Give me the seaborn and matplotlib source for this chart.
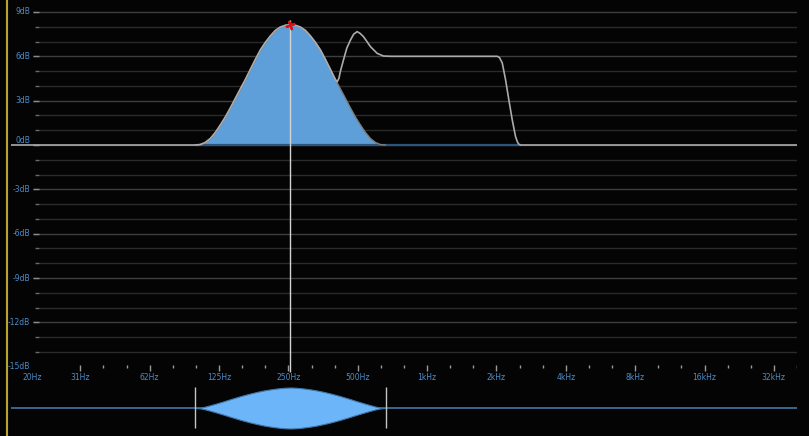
import numpy as np
import pandas as pd
import matplotlib
matplotlib.use("Agg")
import matplotlib.pyplot as plt
import seaborn as sns
from matplotlib.transforms import blended_transform_factory

# ---------------- data ----------------
bell_freq = [98.6, 103.6, 108.9, 114.6, 120.5, 126.6, 133.1, 139.9, 147.1, 154.6,
             162.6, 170.9, 179.7, 188.9, 198.6, 208.8, 219.5, 230.7, 242.6, 255.0,
             268.1, 281.8, 296.3, 311.5, 327.5, 344.3, 361.8, 380.5, 399.8, 420.5,
             442.2, 464.9, 488.6, 513.6, 539.8, 567.4, 597.0, 627.0, 660.0]
bell_db = [0.0, 0.03, 0.17, 0.44, 0.85, 1.35, 1.89, 2.50, 3.15, 3.79,
           4.43, 5.11, 5.79, 6.43, 6.94, 7.38, 7.75, 7.98, 8.10, 8.15,
           8.10, 7.98, 7.75, 7.38, 6.94, 6.43, 5.79, 5.11, 4.43, 3.79,
           3.15, 2.50, 1.89, 1.35, 0.85, 0.44, 0.17, 0.03, 0.0]

total_freq = [15.625, 98.6, 103.6, 108.9, 114.6, 120.5, 126.6, 133.1, 139.9, 147.1,
              154.6, 162.6, 170.9, 179.7, 188.9, 198.6, 208.8, 219.5, 230.7, 242.6,
              255.0, 268.1, 281.8, 296.3, 311.5, 327.5, 344.3, 361.8, 380.5, 399.8,
              407.0, 414.0, 420.5, 433.4, 448.0, 464.8, 480.0, 497.0, 512.0, 529.3,
              548.0, 567.8, 607.0, 646.5, 700.0, 1000.0, 1500.0, 2016.0, 2060.0,
              2119.0, 2191.0, 2264.0, 2342.0, 2421.0, 2470.0, 2502.0, 2545.0, 40317.0]
total_db = [0.0, 0.0, 0.03, 0.17, 0.44, 0.85, 1.35, 1.89, 2.50, 3.15,
            3.79, 4.43, 5.11, 5.79, 6.43, 6.94, 7.38, 7.75, 7.98, 8.10,
            8.15, 8.10, 7.98, 7.75, 7.38, 6.94, 6.43, 5.79, 5.11, 4.43,
            4.28, 4.50, 5.00, 5.75, 6.55, 7.10, 7.50, 7.67, 7.55, 7.33,
            7.00, 6.65, 6.20, 6.02, 6.0, 6.0, 6.0, 6.0, 5.92,
            5.55, 4.40, 3.04, 1.69, 0.56, 0.18, 0.05, 0.0, 0.0]

# half-thickness of the lens in the lower band strip (aligned with bell_freq)
lens_half = [0.0, 0.4, 1.4, 2.8, 4.2, 5.7, 7.2, 8.8, 10.3, 11.8,
             13.2, 14.5, 15.7, 16.8, 17.8, 18.6, 19.3, 19.9, 20.3, 20.5,
             20.3, 19.9, 19.3, 18.6, 17.8, 16.8, 15.7, 14.5, 13.2, 11.8,
             10.3, 8.8, 7.2, 5.7, 4.2, 2.8, 1.4, 0.4, 0.0]

x_tick_freq = [31.25, 62.5, 125, 250, 500, 1000, 2000, 4000, 8000, 16000, 32000]
x_tick_labels = ["31Hz", "62Hz", "125Hz", "250Hz", "500Hz", "1kHz", "2kHz",
                 "4kHz", "8kHz", "16kHz", "32kHz"]
first_label_freq = 20
first_label = "20Hz"
y_label_values = [9, 6, 3, 0, -3, -6, -9, -12, -15]
y_labels = ["9dB", "6dB", "3dB", "0dB", "-3dB", "-6dB", "-9dB", "-12dB", "-15dB"]
band_center = 255.0
band_peak = 8.15
band_edges = [98.6, 660.0]

# ---------------- style ----------------
BG = "#040404"
LABEL = "#4d8cc8"
sns.set_style("dark", {"axes.facecolor": BG, "figure.facecolor": BG})
plt.rcParams["font.family"] = ["DejaVu Sans"]

W, H = 809, 436
fig = plt.figure(figsize=(W / 100, H / 100), dpi=100, facecolor=BG)

XMIN, XMAX = 15.625, 40317.0
PX_PER_OCT = 786 / np.log2(XMAX / XMIN)


def px2f(px):
    return XMIN * 2 ** ((px - 11) / PX_PER_OCT)


# main axes: pixel rows 4..384
ax = fig.add_axes([11 / W, (H - 384) / H, 786 / W, 380 / H])
ax.set_facecolor(BG)
ax.set_xscale("log", base=2)
ax.set_xlim(XMIN, XMAX)
ax.set_ylim((145 - 384) / 14.78, (145 - 4) / 14.78)
for s in ax.spines.values():
    s.set_visible(False)
ax.set_xticks([])
ax.set_yticks([])
ax.grid(False)

# horizontal gridlines every dB
for db in range(-14, 10):
    if db % 3 == 0:
        ax.hlines(db, px2f(33), XMAX, color="#3e3e3e", lw=1.0, zorder=1)
        ax.hlines(db, px2f(33), px2f(39), color="#8a8a8a", lw=1.0, zorder=1.5)
    else:
        ax.hlines(db, px2f(39), XMAX, color="#2a2a2a", lw=1.0, zorder=1)
        ax.hlines(db, px2f(35), px2f(39), color="#6a6a6a", lw=1.0, zorder=1.5)

# y labels
tr = blended_transform_factory(ax.transAxes, ax.transData)
for v, lab in zip(y_label_values, y_labels):
    yy = v + 0.33 if v == 0 else v
    ax.text((30 - 11) / 786, yy, lab, transform=tr, ha="right", va="center",
            fontsize=5.5, color=LABEL, zorder=5)

# x ticks and labels
tick_top = (145 - 365) / 14.78
for f in x_tick_freq:
    ax.vlines(f, (145 - 371) / 14.78, tick_top, color="#9a9a9a", lw=1.0)
minor = []
for f in x_tick_freq:
    for k in (1, 2):
        minor.append(f * 2 ** (k / 3))
for f in minor:
    ax.vlines(f, (145 - 368) / 14.78, tick_top, color="#9a9a9a", lw=1.0)
lab_y = (145 - 377.5) / 14.78
ax.text(first_label_freq * 0.97, lab_y, first_label, ha="center", va="center",
        fontsize=5.5, color=LABEL)
for f, lab in zip(x_tick_freq, x_tick_labels):
    ax.text(f, lab_y, lab, ha="center", va="center", fontsize=5.5, color=LABEL)

# band fill
ax.fill_between(bell_freq, 0, bell_db, color="#5f9fd9", lw=0, zorder=2)
ax.hlines(0, band_edges[0], 2545.0, color="#2c557c", lw=1.6, zorder=2.2)
bell_df = pd.DataFrame({"freq": bell_freq, "db": bell_db})
sns.lineplot(data=bell_df, x="freq", y="db", color="#7c7c7c", lw=1.0,
             estimator=None, sort=False, ax=ax, zorder=3)

total_df = pd.DataFrame({"freq": total_freq, "db": total_db})
sns.lineplot(data=total_df, x="freq", y="db", color="#ababab", lw=1.2,
             estimator=None, sort=False, ax=ax, zorder=4)
ax.set_xlabel("")
ax.set_ylabel("")

# cursor line and red handle
ax.vlines(band_center, (145 - 372) / 14.78, (145 - 20) / 14.78,
          color="#d4d4d4", lw=1.0, zorder=4.5)
ax.plot([band_center], [band_peak], marker=(4, 2, 20), ms=7, mew=1.6,
        color="#e01010", zorder=6)

# lower band strip: pixel rows 386..430
ax2 = fig.add_axes([11 / W, (H - 430) / H, 786 / W, 44 / H])
ax2.set_facecolor(BG)
ax2.set_xscale("log", base=2)
ax2.set_xlim(XMIN, XMAX)
ax2.set_ylim(-22, 22)
for s in ax2.spines.values():
    s.set_visible(False)
ax2.set_xticks([])
ax2.set_yticks([])
ax2.grid(False)
ax2.hlines(0, XMIN, XMAX, color="#3c6e9f", lw=1.3, zorder=1)
lens = np.array(lens_half)
ax2.fill_between(bell_freq, -lens, lens, color="#6bb5f8", lw=0.8,
                 edgecolor="#3f76aa", zorder=2)
ax2.vlines(band_edges, -20, 21.3, color="#c4c4c4", lw=1.0, zorder=3)

# yellow left edge
fig.add_artist(plt.Line2D([6.5 / W, 6.5 / W], [0, 1], transform=fig.transFigure,
                          color="#b8a42c", lw=1.5))

fig.savefig("out.png", dpi=100, facecolor=BG)
